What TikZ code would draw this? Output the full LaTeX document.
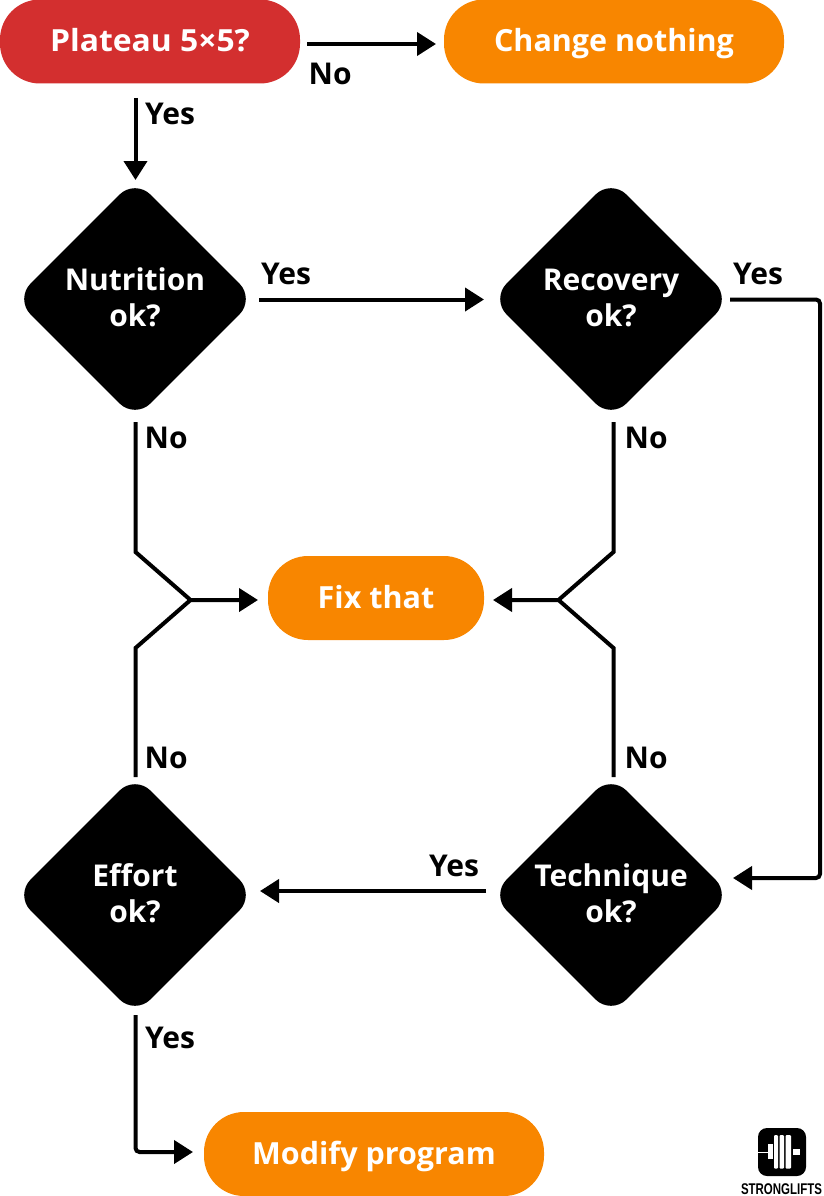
\documentclass[tikz,border=0pt]{standalone}
\usepackage{fontspec}
\setmainfont{Open Sans}
\usetikzlibrary{shapes.geometric,arrows.meta}
\definecolor{redbox}{HTML}{D32F2F}
\definecolor{orangebox}{HTML}{F88600}
\tikzset{
  pill/.style={rectangle, draw=none, text=white, font=\fontsize{30.5}{36}\selectfont\bfseries, minimum height=84pt, inner sep=0pt, rounded corners=40pt, text height=25pt, text depth=4pt},
  decide/.style={diamond, aspect=1, fill=black, rounded corners=22pt, minimum width=240pt, minimum height=240pt, inner sep=0pt},
  dtext/.style={text=white, align=center, inner sep=0pt, yshift=1.5pt, font=\fontsize{30}{36}\selectfont\bfseries},
  conn/.style={line width=4pt, -{Triangle[length=19pt,width=23pt]}, line join=miter},
  joinline/.style={line width=4pt},
  lab/.style={font=\fontsize{30}{34}\selectfont\bfseries, text=black, inner sep=0pt, anchor=base west}
}
\begin{document}
\begin{tikzpicture}[x=1pt,y=-1pt]
\useasboundingbox (0,0) rectangle (824,1196);
\fill[white] (0,0) rectangle (824,1196);
% boxes
\node[pill, fill=redbox, minimum width=300pt] (plateau) at (150,41.5) {\scalebox{1.045}[1]{Plateau 5×5?}};
\node[pill, fill=orangebox, minimum width=340pt] (nochange) at (614,41.5) {Change nothing};
\node[pill, fill=orangebox, minimum width=216pt] (fix) at (376,598) {Fix that};
\node[pill, fill=orangebox, minimum width=340pt] (modify) at (374,1154) {Modify program};
\node[decide, label={[dtext]center:{Nutrition\\ok?}}] (nutrition) at (135,299) {};
\node[decide, label={[dtext]center:{Recovery\\ok?}}] (recovery) at (611,299) {};
\node[decide, label={[dtext]center:{Effort\\ok?}}] (effort) at (135,895) {};
\node[decide, label={[dtext]center:{Technique\\ok?}}] (technique) at (611,895) {};
% connector ends
\coordinate (a1) at (307,44); \coordinate (a2) at (436,44);
\coordinate (b1) at (135.5,98); \coordinate (b2) at (135.5,180);
\coordinate (c1) at (259,299.5); \coordinate (c2) at (484,299.5);
\coordinate (d1) at (730,299.5); \coordinate (d2) at (820,299.5); \coordinate (d3) at (820,878); \coordinate (d4) at (733,878);
\coordinate (e1) at (486,891); \coordinate (e2) at (260,891);
\coordinate (f1) at (135.5,1015); \coordinate (f2) at (135.5,1152); \coordinate (f3) at (193,1152);
\coordinate (g1) at (135.5,422); \coordinate (g2) at (135.5,552); \coordinate (g3) at (190.5,600); \coordinate (g4) at (258,600);
\coordinate (h1) at (135.5,777); \coordinate (h2) at (135.5,648);
\coordinate (i1) at (613.5,422); \coordinate (i2) at (613.5,552); \coordinate (i3) at (558.5,600); \coordinate (i4) at (493,600);
\coordinate (j1) at (613.5,777); \coordinate (j2) at (613.5,648);
% connectors
\draw[conn] (a1) -- (a2);
\draw[conn] (b1) -- (b2);
\draw[conn] (c1) -- (c2);
\draw[conn, rounded corners=4pt] (d1) -- (d2) -- (d3) -- (d4);
\draw[conn] (e1) -- (e2);
\draw[conn, rounded corners=4pt] (f1) -- (f2) -- (f3);
\draw[conn] (g1) -- (g2) -- (g3) -- (g4);
\draw[joinline] (h1) -- (h2) -- (g3);
\draw[conn] (i1) -- (i2) -- (i3) -- (i4);
\draw[joinline] (j1) -- (j2) -- (i3);
% labels
\node[lab] (l1) at (308.5,84.5) {No};
\node[lab] (l2) at (145,124.5) {Yes};
\node[lab] (l3) at (261,284) {Yes};
\node[lab] (l4) at (733,284) {Yes};
\node[lab] (l5) at (144.5,448) {No};
\node[lab] (l6) at (624.5,448) {No};
\node[lab] (l7) at (144.5,768) {No};
\node[lab] (l8) at (624.5,768) {No};
\node[lab] (l9) at (429,876) {Yes};
\node[lab] (l10) at (145,1048) {Yes};
% logo
\fill[black, rounded corners=9pt] (758,1128) rectangle (806,1176);
\fill[white] (758,1151.5) rectangle (768,1153);
\fill[white] (768,1144) rectangle (772.5,1159);
\fill[white, rounded corners=1pt] (774,1135) rectangle (778,1168.5);
\fill[white, rounded corners=1pt] (779.5,1135) rectangle (784,1168.5);
\fill[white, rounded corners=1pt] (785.5,1135) rectangle (791,1168.5);
\fill[white] (793,1149) rectangle (800,1154.5);
\node[inner sep=0pt, anchor=center, text=black] (logo) at (781.5,1188.8) {\fontspec{Liberation Sans}\bfseries\fontsize{15.5}{16}\selectfont\scalebox{0.74}[1]{STRONGLIFTS}};
\end{tikzpicture}
\end{document}
